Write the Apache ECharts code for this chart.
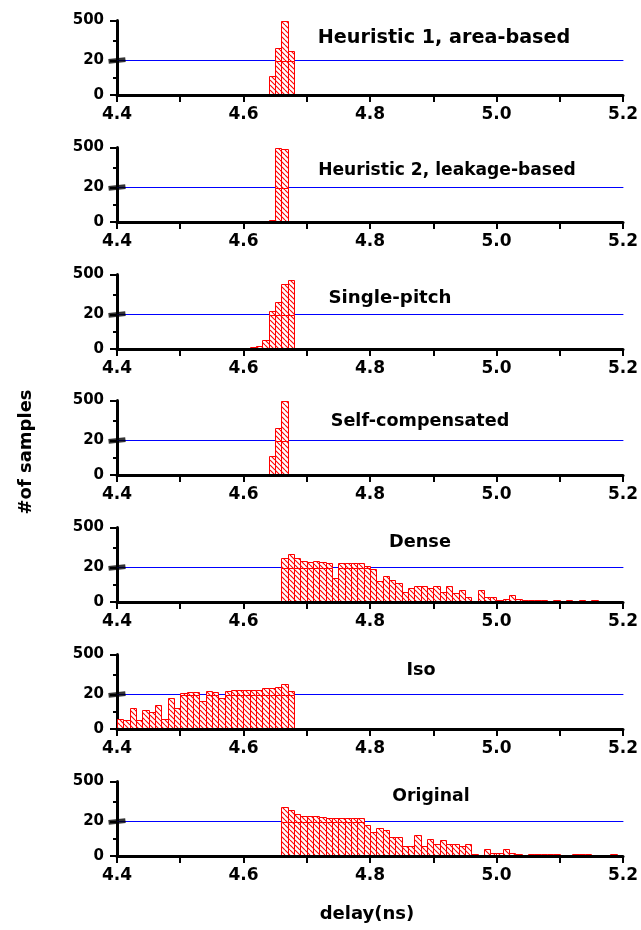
<!DOCTYPE html>
<html>
<head>
<meta charset="utf-8">
<script src="https://cdn.jsdelivr.net/npm/echarts@6/dist/echarts.min.js"></script>
<style>
  html, body { margin: 0; padding: 0; background: #ffffff; }
  #chart { width: 641px; height: 930px; }
</style>
</head>
<body>
<div id="chart"></div>
<script>
// Delay histograms, 0.01 ns bins, split y axis (0-20 linear, 20-500 linear)
const xMin = 4.4, xMax = 5.2, xLabelStep = 0.2;
const binWidth = 0.01;
const yBreak = 20, yTop = 500, yUpperMinor = 260;

const panelTitles = [
  'Heuristic 1, area-based',
  'Heuristic 2, leakage-based',
  'Single-pitch',
  'Self-compensated',
  'Dense',
  'Iso',
  'Original'
];

// first bin left edge (ns) and sample counts per bin
const heuristic1Start = 4.64;
const heuristic1Counts = [11, 166, 500, 134];

const heuristic2Start = 4.64;
const heuristic2Counts = [1, 490, 485];

const singlePitchStart = 4.61;
const singlePitchCounts = [1, 2, 5, 60, 168, 384, 432];

const selfCompStart = 4.64;
const selfCompCounts = [11, 168, 496];

const denseStart = 4.66;
const denseCounts = [135, 180, 130, 100, 90, 95, 85, 70, 14, 80,
                     70, 72, 70, 32, 19, 12, 15, 13, 11, 6,
                     8, 9, 9, 8, 9, 6, 9, 5, 7, 3,
                     0, 7, 3, 3, 1, 2, 4, 2, 1, 1,
                     1, 1, 0, 1, 0, 1, 0, 1, 0, 1];

const isoStart = 4.40;
const isoCounts = [6, 5, 12, 5, 11, 10, 14, 6, 18, 12,
                   36, 49, 49, 16, 57, 49, 18, 61, 69, 69,
                   69, 69, 69, 98, 98, 110, 151, 61];

const originalStart = 4.66;
const originalCounts = [200, 160, 115, 92, 92, 88, 76, 66, 68, 68,
                        66, 66, 66, 18, 14, 16, 15, 11, 11, 6,
                        6, 12, 6, 10, 7, 9, 7, 7, 6, 7,
                        1, 0, 4, 2, 2, 4, 2, 1, 0, 1,
                        1, 1, 1, 1, 0, 0, 1, 1, 1, 0,
                        0, 0, 1];

const histograms = [
  [heuristic1Start, heuristic1Counts],
  [heuristic2Start, heuristic2Counts],
  [singlePitchStart, singlePitchCounts],
  [selfCompStart, selfCompCounts],
  [denseStart, denseCounts],
  [isoStart, isoCounts],
  [originalStart, originalCounts]
];

// layout
const gridLeft = 117, gridRight = 18;
const firstZeroY = 95, panelStep = 126.83;
const lowerH = 34.5, upperH = 40;
const titlePos = [[444, 38], [447, 171], [390, 298], [420, 421], [420, 542], [421, 670], [431, 797]];
const titleSize = [19.2, 17.1, 18.2, 17.6, 17.7, 17.6, 17.3];

const labelFont = '"DejaVu Sans", sans-serif';

function makeHatch() {
  const c = document.createElement('canvas');
  const w = 5, h = 5;
  c.width = w; c.height = h;
  const g = c.getContext('2d');
  g.fillStyle = '#ffffff';
  g.fillRect(0, 0, w, h);
  g.strokeStyle = '#ff0000';
  g.lineWidth = 1.1;
  g.beginPath();
  for (let k = -1; k <= 1; k++) {
    g.moveTo(k * w, 0);
    g.lineTo(k * w + w, h);
  }
  g.stroke();
  return c;
}
const hatch = { image: makeHatch(), repeat: 'repeat' };

function binData(start, counts) {
  return counts.map((v, i) => {
    const x0 = +(start + i * binWidth).toFixed(2);
    return [x0, +(x0 + binWidth).toFixed(2), v];
  });
}

function snap(v) { return Math.round(v) + 0.5; }

function barRect(api, lo, hi) {
  const p0 = api.coord([api.value(0), lo]);
  const p1 = api.coord([api.value(1), hi]);
  const x0 = snap(p0[0]), x1 = snap(p1[0]);
  const yb = snap(p0[1]), yt = Math.min(snap(p1[1]), yb - 2);
  return {
    type: 'rect',
    shape: { x: x0, y: yt, width: x1 - x0, height: yb - yt },
    style: { fill: hatch, stroke: '#ff0000', lineWidth: 1 }
  };
}

const grid = [], xAxis = [], yAxis = [], series = [], graphic = [];

histograms.forEach(([start, counts], p) => {
  const zeroY = Math.round(firstZeroY + panelStep * p);
  const gLower = 2 * p, gUpper = 2 * p + 1;
  grid.push({ left: gridLeft, right: gridRight, top: zeroY - lowerH, height: lowerH, outerBoundsMode: 'none' });
  grid.push({ left: gridLeft, right: gridRight, top: zeroY - lowerH - upperH, height: upperH, outerBoundsMode: 'none' });

  xAxis.push({
    gridIndex: gLower, type: 'value', min: xMin, max: xMax, interval: xLabelStep,
    offset: 2, z: 5,
    axisLine: { lineStyle: { color: '#000', width: 3 } },
    axisTick: { length: 7, lineStyle: { color: '#000', width: 2 } },
    minorTick: { show: true, splitNumber: 2, length: 7, lineStyle: { color: '#000', width: 2 } },
    axisLabel: {
      margin: 9, color: '#000', fontFamily: labelFont, fontWeight: 'bold', fontSize: 17,
      formatter: v => v.toFixed(1)
    },
    splitLine: { show: false }, minorSplitLine: { show: false }
  });
  xAxis.push({
    gridIndex: gUpper, type: 'value', min: xMin, max: xMax, interval: xLabelStep,
    axisLine: { lineStyle: { color: '#0000ff', width: 1 } },
    axisTick: { show: false }, axisLabel: { show: false }, splitLine: { show: false }
  });

  const yLowerIdx = yAxis.length;
  yAxis.push({
    gridIndex: gLower, type: 'value', min: 0, max: yBreak, interval: yBreak,
    axisLine: { show: true, lineStyle: { color: '#000', width: 3 } },
    axisTick: { show: true, length: 7, lineStyle: { color: '#000', width: 2 } },
    minorTick: { show: true, splitNumber: 2, length: 4, lineStyle: { color: '#000', width: 2 } },
    axisLabel: { margin: 13, color: '#000', fontFamily: labelFont, fontWeight: 'bold', fontSize: 15 },
    splitLine: { show: false }, minorSplitLine: { show: false }
  });
  const yUpperIdx = yAxis.length;
  yAxis.push({
    gridIndex: gUpper, type: 'value', min: yBreak, max: yTop,
    axisLine: { show: true, lineStyle: { color: '#000', width: 3 } },
    axisTick: { show: true, customValues: [yTop], length: 7, lineStyle: { color: '#000', width: 2 } },
    axisLabel: { customValues: [yTop], margin: 13, color: '#000', fontFamily: labelFont, fontWeight: 'bold', fontSize: 15 },
    splitLine: { show: false }
  });
  yAxis.push({
    gridIndex: gUpper, type: 'value', min: yBreak, max: yTop, position: 'left',
    axisLine: { show: false },
    axisTick: { show: true, customValues: [yUpperMinor], length: 4, lineStyle: { color: '#000', width: 2 } },
    axisLabel: { show: false }, splitLine: { show: false }
  });

  const data = binData(start, counts);

  series.push({
    type: 'custom', xAxisIndex: gLower, yAxisIndex: yLowerIdx,
    dimensions: ['x0', 'x1', 'count'], encode: { x: [0, 1], y: 2 },
    data: data, z: 3, silent: true, clip: false,
    renderItem: (params, api) => {
      const v = api.value(2);
      if (!(v > 0)) return null;
      return barRect(api, 0, Math.min(v, yBreak));
    }
  });
  series.push({
    type: 'custom', xAxisIndex: gUpper, yAxisIndex: yUpperIdx,
    dimensions: ['x0', 'x1', 'count'], encode: { x: [0, 1], y: 2 },
    data: data, z: 3, silent: true, clip: false,
    renderItem: (params, api) => {
      const v = api.value(2);
      if (!(v > yBreak)) return null;
      return barRect(api, yBreak, Math.min(v, yTop));
    }
  });
  // axis break marker on the y axis at the split value
  series.push({
    type: 'scatter', xAxisIndex: gLower, yAxisIndex: yLowerIdx,
    data: [[xMin, yBreak]], symbol: 'rect', symbolSize: [17, 5], symbolRotate: 6,
    itemStyle: { color: '#000' }, clip: false, silent: true, z: 10
  });

  graphic.push({
    type: 'text', x: titlePos[p][0], y: titlePos[p][1],
    style: {
      text: panelTitles[p], font: 'bold ' + titleSize[p] + 'px "DejaVu Sans", sans-serif',
      fill: '#000', textAlign: 'center', textVerticalAlign: 'middle'
    }
  });
});

graphic.push({
  type: 'text', x: 26, y: 452, rotation: Math.PI / 2,
  style: { text: '#of samples', font: 'bold 18px "DejaVu Sans", sans-serif', fill: '#000',
           textAlign: 'center', textVerticalAlign: 'middle' }
});
graphic.push({
  type: 'text', x: 367, y: 914,
  style: { text: 'delay(ns)', font: 'bold 18px "DejaVu Sans", sans-serif', fill: '#000',
           textAlign: 'center', textVerticalAlign: 'middle' }
});

const chart = echarts.init(document.getElementById('chart'), null, { renderer: 'canvas' });
chart.setOption({
  animation: false,
  backgroundColor: '#ffffff',
  grid, xAxis, yAxis, series, graphic
});
</script>
</body>
</html>
